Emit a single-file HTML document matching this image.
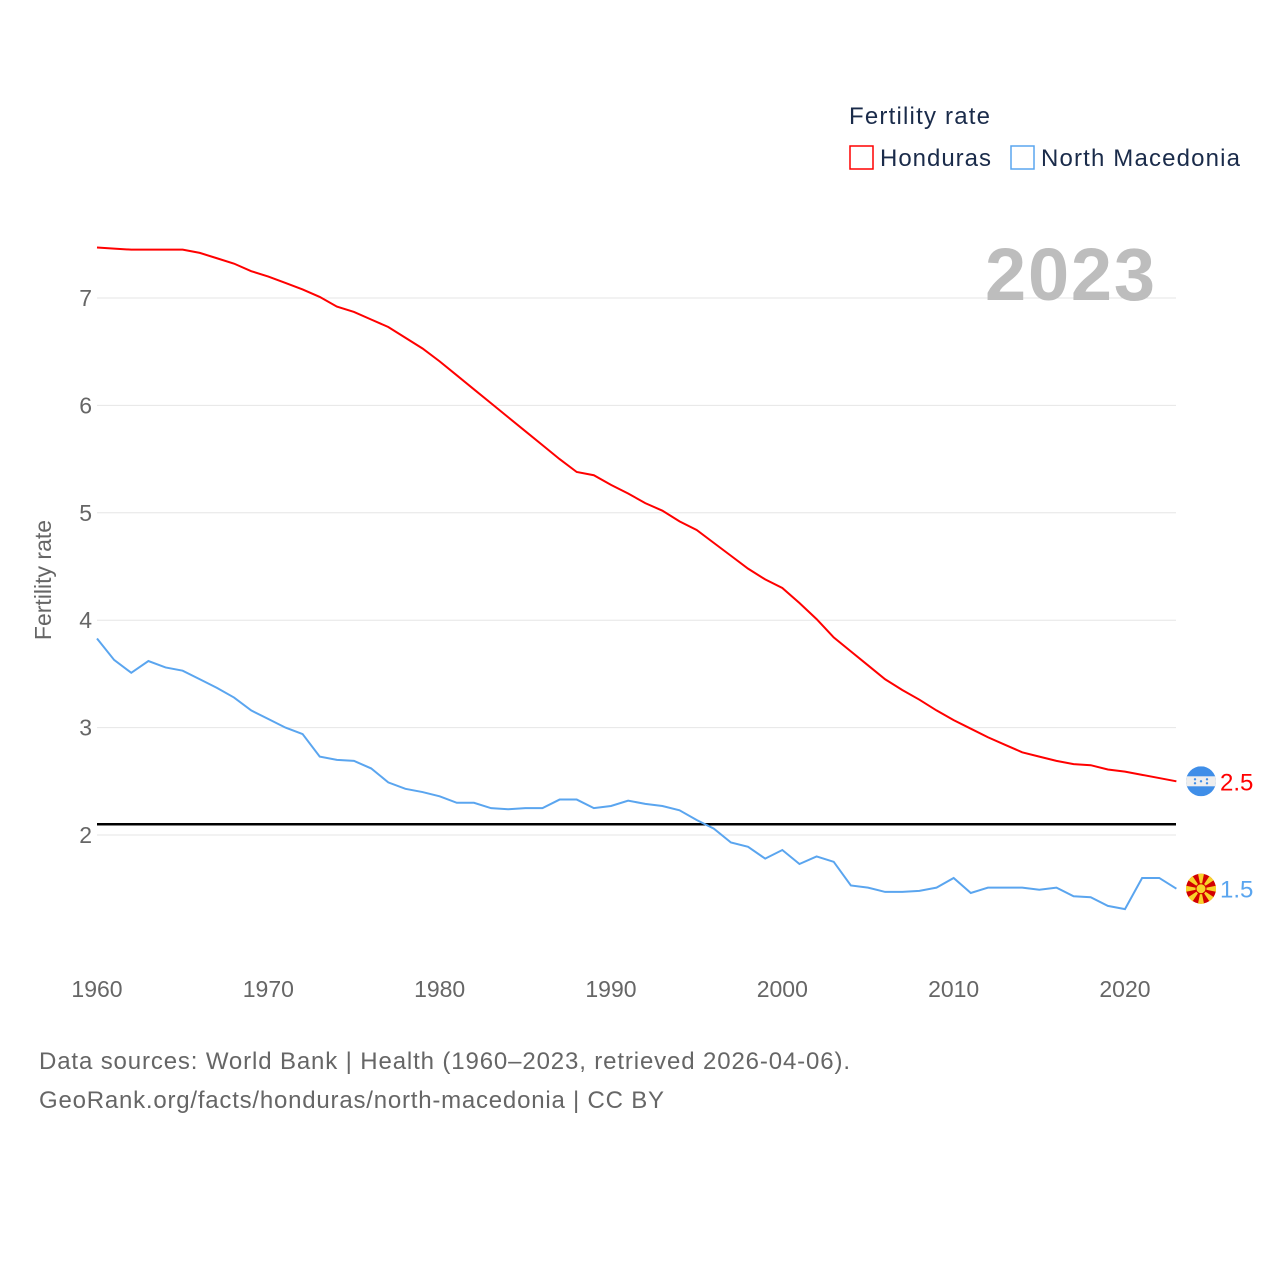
<!DOCTYPE html>
<html><head><meta charset="utf-8"><style>
body{margin:0;background:#fff;font-family:"Liberation Sans",sans-serif}
svg text{font-family:"Liberation Sans",sans-serif}
</style></head><body>
<svg id="chart" width="1280" height="1280" viewBox="0 0 1280 1280" xmlns="http://www.w3.org/2000/svg">
<g id="grid"></g>
<g id="yticks"></g>
<g id="xticks"></g>
<text x="1155" y="300" text-anchor="end" font-size="74" font-weight="bold" fill="#bdbdbd" textLength="170">2023</text>
<text transform="translate(51,580) rotate(-90)" text-anchor="middle" font-size="23" fill="#666">Fertility rate</text>
<g id="series"></g>
<g>
<text x="849" y="124" font-size="24" fill="#1a2b4a" textLength="141">Fertility rate</text>
<g><rect x="850" y="146" width="23" height="23" fill="none" stroke="#f00" stroke-width="1.5"/><text x="880" y="166" font-size="24" fill="#1a2b4a" textLength="111">Honduras</text></g>
<g><rect x="1011" y="146" width="23" height="23" fill="none" stroke="#5aa5ef" stroke-width="1.5"/><text x="1041" y="166" font-size="24" fill="#1a2b4a" textLength="199">North Macedonia</text></g>
</g>
<text x="39" y="1069" font-size="24" fill="#666" textLength="811">Data sources: World Bank | Health (1960–2023, retrieved 2026-04-06).</text>
<text x="39" y="1108" font-size="24" fill="#666" textLength="625">GeoRank.org/facts/honduras/north-macedonia | CC BY</text>
</svg>
<script>
const years=[];for(let y=1960;y<=2023;y++)years.push(y);
const honduras=[7.47,7.46,7.45,7.45,7.45,7.45,7.42,7.37,7.32,7.25,7.2,7.14,7.08,7.01,6.92,6.87,6.80,6.73,6.63,6.53,6.41,6.28,6.15,6.02,5.89,5.76,5.63,5.50,5.38,5.35,5.26,5.18,5.09,5.02,4.92,4.84,4.72,4.60,4.48,4.38,4.30,4.16,4.01,3.84,3.71,3.58,3.45,3.35,3.26,3.16,3.07,2.99,2.91,2.84,2.77,2.73,2.69,2.66,2.65,2.61,2.59,2.56,2.53,2.50];
const macedonia=[3.83,3.63,3.51,3.62,3.56,3.53,3.45,3.37,3.28,3.16,3.08,3.00,2.94,2.73,2.70,2.69,2.62,2.49,2.43,2.40,2.36,2.30,2.30,2.25,2.24,2.25,2.25,2.33,2.33,2.25,2.27,2.32,2.29,2.27,2.23,2.14,2.06,1.93,1.89,1.78,1.86,1.73,1.80,1.75,1.53,1.51,1.47,1.47,1.48,1.51,1.60,1.46,1.51,1.51,1.51,1.49,1.51,1.43,1.42,1.34,1.31,1.60,1.60,1.50];
const yTicks=[2,3,4,5,6,7];
const xTicks=[1960,1970,1980,1990,2000,2010,2020];
const replacement=2.1;
const NS="http://www.w3.org/2000/svg";
const X=y=>97+(y-1960)*17.133;
const Y=v=>835-(v-2)*107.4;
function mk(t,a,p){const e=document.createElementNS(NS,t);for(const k in a)e.setAttribute(k,a[k]);p.appendChild(e);return e;}
const grid=document.getElementById('grid'),yt=document.getElementById('yticks'),xt=document.getElementById('xticks'),ser=document.getElementById('series');
yTicks.forEach(v=>{
 const l=mk('line',{x1:97,x2:1176,y1:Y(v),y2:Y(v),stroke:'#e6e6e6','stroke-width':1},grid);
 
 
 const t=mk('text',{x:92,y:Y(v)+8,'text-anchor':'end','font-size':23,fill:'#666'},yt);
 
 
 t.textContent=v;
});
xTicks.forEach(v=>{
 const t=mk('text',{x:X(v),y:997,'text-anchor':'middle','font-size':23,fill:'#666'},xt);
 
 
 t.textContent=v;
});
const rl=mk('line',{x1:97,x2:1176,y1:Y(replacement),y2:Y(replacement),stroke:'#000','stroke-width':2.5},ser);


function line(d,c,n){
 const p=mk('polyline',{points:d.map((v,i)=>X(years[i])+','+Y(v)).join(' '),fill:'none',stroke:c,'stroke-width':2},ser);
 
 
}
line(honduras,'#f00','honduras-line');
line(macedonia,'#5aa5ef','north-macedonia-line');
const hy=Y(honduras[honduras.length-1]),my=Y(macedonia[macedonia.length-1]);
const hf=mk('g',{},ser);


const cp=mk('clipPath',{id:'hc'},hf);
mk('circle',{cx:1201,cy:hy,r:15},cp);
const hg=mk('g',{'clip-path':'url(#hc)'},hf);
mk('rect',{x:1186,y:hy-15,width:30,height:30,fill:'#3f8ee8'},hg);
mk('rect',{x:1186,y:hy-5,width:30,height:10,fill:'#eee'},hg);
[[1195,hy-2],[1207,hy-2],[1201,hy],[1195,hy+2],[1207,hy+2]].forEach(p=>mk('circle',{cx:p[0],cy:p[1],r:1.2,fill:'#3f8ee8'},hg));
const ht=mk('text',{x:1220,y:hy+9,'font-size':24,fill:'#f00'},ser);


ht.textContent=honduras[honduras.length-1].toFixed(1);
const mf=mk('g',{},ser);


mk('circle',{cx:1201,cy:my,r:15,fill:'#d20000'},mf);
for(let i=0;i<8;i++){const a=i*Math.PI/4;const dx=Math.cos(a),dy=Math.sin(a);
 mk('polygon',{points:`${1201},${my} ${1201+15*dx-3*dy},${my+15*dy+3*dx} ${1201+15*dx+3*dy},${my+15*dy-3*dx}`,fill:'#f8d22a'},mf);}
mk('circle',{cx:1201,cy:my,r:5,fill:'#f8d22a',stroke:'#d20000','stroke-width':1},mf);
const mt=mk('text',{x:1220,y:my+9,'font-size':24,fill:'#5aa5ef'},ser);


mt.textContent=macedonia[macedonia.length-1].toFixed(1);
</script>
</body></html>
